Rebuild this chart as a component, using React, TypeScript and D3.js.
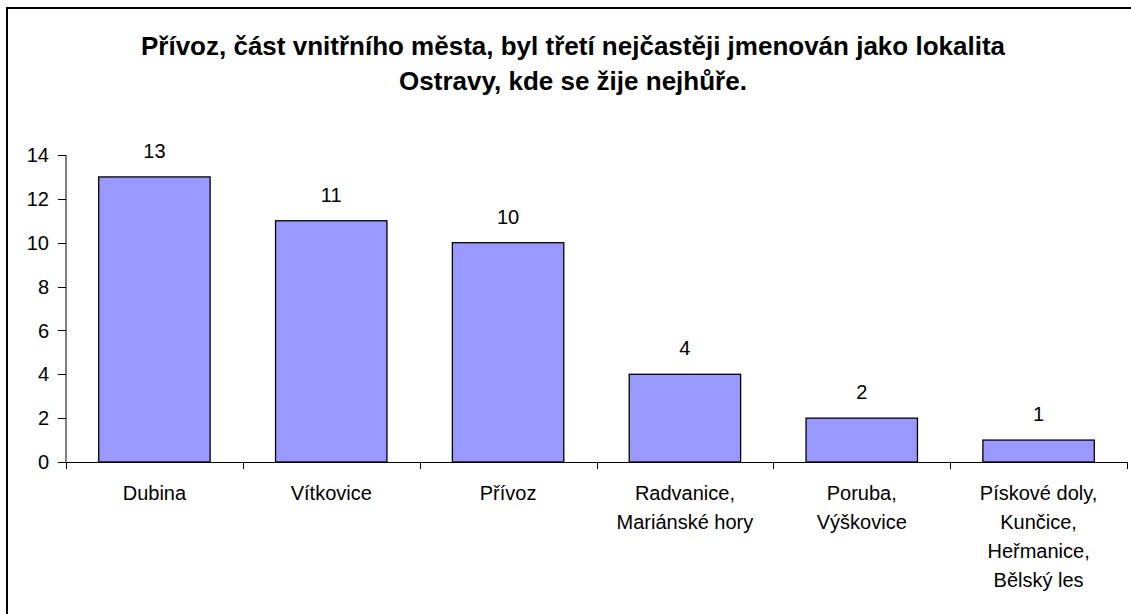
import { useEffect, useRef } from "react";
import * as d3 from "d3";

const categories = [
  "Dubina",
  "Vítkovice",
  "Přívoz",
  "Radvanice,\nMariánské hory",
  "Poruba,\nVýškovice",
  "Pískové doly,\nKunčice,\nHeřmanice,\nBělský les",
];
const values = [13, 11, 10, 4, 2, 1];
const yTicks = [0, 2, 4, 6, 8, 10, 12, 14];
const titleLines = [
  "Přívoz, část vnitřního města, byl třetí nejčastěji jmenován jako lokalita",
  "Ostravy, kde se žije nejhůře.",
];

export default function App() {
  const svgRef = useRef<SVGSVGElement>(null);

  useEffect(() => {
    if (!svgRef.current) return;
    const width = 1131;
    const height = 614;
    const font = "'Liberation Sans', Arial, sans-serif";

    const svg = d3.select(svgRef.current);
    svg.selectAll("*").remove();
    svg.attr("width", width).attr("height", height);

    // chart border (right and bottom fall outside the picture)
    svg
      .append("rect")
      .attr("x", 7)
      .attr("y", 8)
      .attr("width", 1140)
      .attr("height", 640)
      .attr("fill", "#fff")
      .attr("stroke", "#000")
      .attr("stroke-width", 2);

    // title
    svg
      .append("g")
      .selectAll("text")
      .data(titleLines)
      .enter()
      .append("text")
      .attr("x", 573)
      .attr("y", (_, i) => 55 + i * 35)
      .attr("text-anchor", "middle")
      .attr("font-family", font)
      .attr("font-weight", "bold")
      .attr("font-size", 26)
      .text((d) => d);

    const x = d3
      .scaleBand<string>()
      .domain(categories)
      .range([66, 1127])
      .paddingInner(0.37)
      .paddingOuter(0.185);

    const y = d3.scaleLinear().domain([0, 14]).range([462, 155]);

    // bars
    svg
      .append("g")
      .selectAll("rect")
      .data(values)
      .enter()
      .append("rect")
      .attr("x", (_, i) => x(categories[i])!)
      .attr("y", (d) => y(d))
      .attr("width", x.bandwidth())
      .attr("height", (d) => y(0) - y(d))
      .attr("fill", "#9999FF")
      .attr("stroke", "#000")
      .attr("stroke-width", 1.3);

    // value labels
    svg
      .append("g")
      .selectAll("text")
      .data(values)
      .enter()
      .append("text")
      .attr("x", (_, i) => x(categories[i])! + x.bandwidth() / 2)
      .attr("y", (d) => y(d) - 19)
      .attr("text-anchor", "middle")
      .attr("font-family", font)
      .attr("font-size", 20)
      .text((d) => d);

    // y axis
    const yAxis = svg.append("g");
    yAxis
      .append("line")
      .attr("x1", 66)
      .attr("x2", 66)
      .attr("y1", y(14))
      .attr("y2", y(0))
      .attr("stroke", "#000");
    yAxis
      .selectAll("line.tick")
      .data(yTicks)
      .enter()
      .append("line")
      .attr("class", "tick")
      .attr("x1", 58)
      .attr("x2", 66)
      .attr("y1", (d) => Math.round(y(d)) + 0.5)
      .attr("y2", (d) => Math.round(y(d)) + 0.5)
      .attr("stroke", "#000");
    yAxis
      .selectAll("text")
      .data(yTicks)
      .enter()
      .append("text")
      .attr("x", 49)
      .attr("y", (d) => y(d))
      .attr("dy", "0.36em")
      .attr("text-anchor", "end")
      .attr("font-family", font)
      .attr("font-size", 20)
      .text((d) => d);

    // x axis
    const xAxis = svg.append("g");
    xAxis
      .append("line")
      .attr("x1", 66)
      .attr("x2", 1127)
      .attr("y1", 462.5)
      .attr("y2", 462.5)
      .attr("stroke", "#000");
    const step = x.step();
    xAxis
      .selectAll("line.tick")
      .data(d3.range(categories.length + 1))
      .enter()
      .append("line")
      .attr("class", "tick")
      .attr("x1", (i) => Math.round(66 + i * step) + 0.5)
      .attr("x2", (i) => Math.round(66 + i * step) + 0.5)
      .attr("y1", 462)
      .attr("y2", 469)
      .attr("stroke", "#000");

    const labels = xAxis
      .selectAll("text")
      .data(categories)
      .enter()
      .append("text")
      .attr("x", (d) => x(d)! + x.bandwidth() / 2)
      .attr("y", 500)
      .attr("text-anchor", "middle")
      .attr("font-family", font)
      .attr("font-size", 20);
    labels
      .selectAll("tspan")
      .data((d) => d.split("\n"))
      .enter()
      .append("tspan")
      .attr("x", function () {
        return (this as SVGTSpanElement).parentElement!.getAttribute("x");
      })
      .attr("dy", (_, i) => (i === 0 ? 0 : 29))
      .text((d) => d);
  }, []);

  return (
    <svg
      ref={svgRef}
      style={{ position: "absolute", left: 0, top: 0, display: "block" }}
    />
  );
}
